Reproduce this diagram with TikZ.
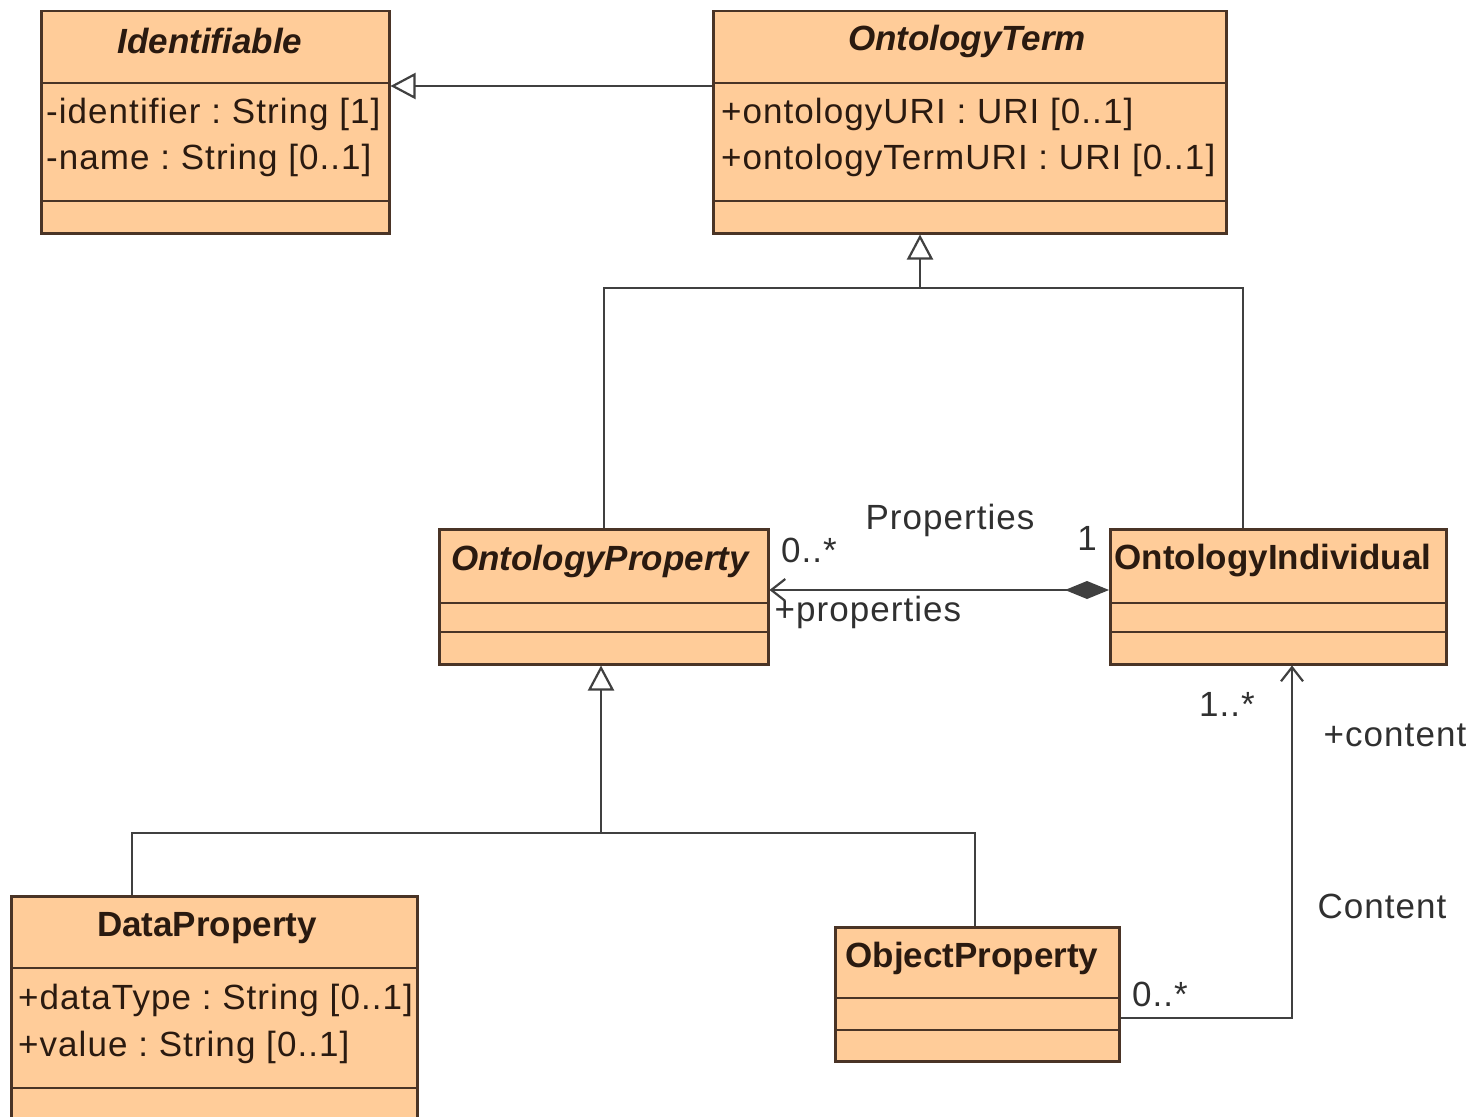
\documentclass[tikz,border=0pt]{standalone}
\usepackage{fontspec}
\setmainfont{Liberation Sans}
\newfontfamily\spfont[LetterSpace=3]{Liberation Sans}
\usetikzlibrary{arrows.meta}
\definecolor{peach}{HTML}{FFCC99}
\definecolor{border}{HTML}{4A3426}
\definecolor{linec}{HTML}{404040}
\definecolor{txt}{HTML}{2A1A10}
\definecolor{lbl}{HTML}{303030}
\frenchspacing
\begin{document}
\begin{tikzpicture}[x=1pt,y=-1pt,
  every node/.style={font=\fontsize{35}{40}\selectfont},
  cls/.style={draw=border, fill=peach, line width=2.5pt, anchor=north west, inner sep=0pt},
  sep/.style={draw=border, line width=2.5pt},
  cname/.style={text=txt, inner sep=0pt, font=\fontsize{35}{40}\selectfont\bfseries},
  aname/.style={cname, font=\fontsize{35}{40}\selectfont\bfseries\itshape},
  attr/.style={text=txt, inner sep=0pt, anchor=west, font=\spfont\fontsize{35}{40}\selectfont},
  lab/.style={text=lbl, inner sep=0pt, font=\spfont\fontsize{35}{40}\selectfont},
  conn/.style={draw=linec, line width=2.2pt},
  gen/.style={conn, -{Triangle[open, length=25pt, width=26pt, fill=white]}},
  nav/.style={conn, -{Straight Barb[length=14pt, width=22pt]}},
]
\useasboundingbox (0,0) rectangle (1474,1116);

% Identifiable
\node[cls, minimum width=348pt, minimum height=222pt] (ident) at (40,10) {};
\coordinate (iy1) at (0,83); \coordinate (iy2) at (0,201);
\draw[sep] (ident.west |- iy1) -- (ident.east |- iy1);
\draw[sep] (ident.west |- iy2) -- (ident.east |- iy2);
\node[aname] (identN) at (210,41) {Identifiable};
\node[attr] (identA1) at (46,114) {-identifier : String [1]};
\node[attr] (identA2) at (46,160) {-name : String [0..1]};

% OntologyTerm
\node[cls, minimum width=513pt, minimum height=222pt] (ot) at (712,10) {};
\draw[sep] (ot.west |- iy1) -- (ot.east |- iy1);
\draw[sep] (ot.west |- iy2) -- (ot.east |- iy2);
\node[aname] (otN) at (967,41) {OntologyTerm};
\node[attr] (otA1) at (721,114) {+ontologyURI : URI [0..1]};
\node[attr] (otA2) at (721,160) {+ontologyTermURI : URI [0..1]};

% OntologyProperty
\node[cls, minimum width=329pt, minimum height=135pt] (op) at (438,528) {};
\coordinate (py1) at (0,603); \coordinate (py2) at (0,632);
\draw[sep] (op.west |- py1) -- (op.east |- py1);
\draw[sep] (op.west |- py2) -- (op.east |- py2);
\node[aname] (opN) at (600,561) {OntologyProperty};

% OntologyIndividual
\node[cls, minimum width=336pt, minimum height=135pt] (oi) at (1109,528) {};
\draw[sep] (oi.west |- py1) -- (oi.east |- py1);
\draw[sep] (oi.west |- py2) -- (oi.east |- py2);
\node[cname] (oiN) at (1273,561) {OntologyIndividual};

% DataProperty
\node[cls, minimum width=406pt, minimum height=228pt] (dp) at (10,895) {};
\coordinate (dy1) at (0,968); \coordinate (dy2) at (0,1088);
\draw[sep] (dp.west |- dy1) -- (dp.east |- dy1);
\draw[sep] (dp.west |- dy2) -- (dp.east |- dy2);
\node[cname] (dpN) at (207,928) {DataProperty};
\node[attr] (dpA1) at (18,1000) {+dataType : String [0..1]};
\node[attr] (dpA2) at (18,1047) {+value : String [0..1]};

% ObjectProperty
\node[cls, minimum width=284pt, minimum height=134pt] (obj) at (834,926) {};
\coordinate (oy1) at (0,998); \coordinate (oy2) at (0,1030);
\draw[sep] (obj.west |- oy1) -- (obj.east |- oy1);
\draw[sep] (obj.west |- oy2) -- (obj.east |- oy2);
\node[cname] (objN) at (972,958) {ObjectProperty};

% Generalization OntologyTerm -> Identifiable
\coordinate (g0) at (0,86);
\draw[gen] (ot.west |- g0) -- (ident.east |- g0);

% Generalization to OntologyTerm
\coordinate (j1) at (920,288);
\coordinate (x1243) at (1243,0);
\draw[conn] (op.north) -- (op.north |- j1) -- (x1243 |- j1) -- (x1243 |- oi.north);
\draw[gen] (j1) -- (j1 |- ot.south);

% Generalization to OntologyProperty
\coordinate (j2) at (601,833);
\coordinate (x132) at (132,0);
\coordinate (x975) at (975,0);
\draw[conn] (x132 |- dp.north) -- (x132 |- j2) -- (x975 |- j2) -- (x975 |- obj.north);
\draw[gen] (j2) -- (j2 |- op.south);

% Composition Properties
\coordinate (c0) at (0,590);
\draw[conn, {Straight Barb[length=14pt, width=22pt]}-{Diamond[length=44pt, width=18pt, fill=linec]}] (op.east |- c0) -- (oi.west |- c0);
\node[lab] (lProps) at (950,520) {Properties};
\node[lab] (lm1) at (809,550) {0..*};
\node[lab] (lm2) at (1087,538) {1};
\node[lab] (lprop) at (868,612) {+properties};

% Content association
\coordinate (c1) at (0,1018);
\coordinate (x1292) at (1292,0);
\draw[nav] (obj.east |- c1) -- (x1292 |- c1) -- (x1292 |- oi.south);
\node[lab] (lm3) at (1160,994) {0..*};
\node[lab] (lm4) at (1227,704) {1..*};
\node[lab] (lcont) at (1395,735) {+content};
\node[lab] (lContent) at (1382,906) {Content};
\end{tikzpicture}
\end{document}
